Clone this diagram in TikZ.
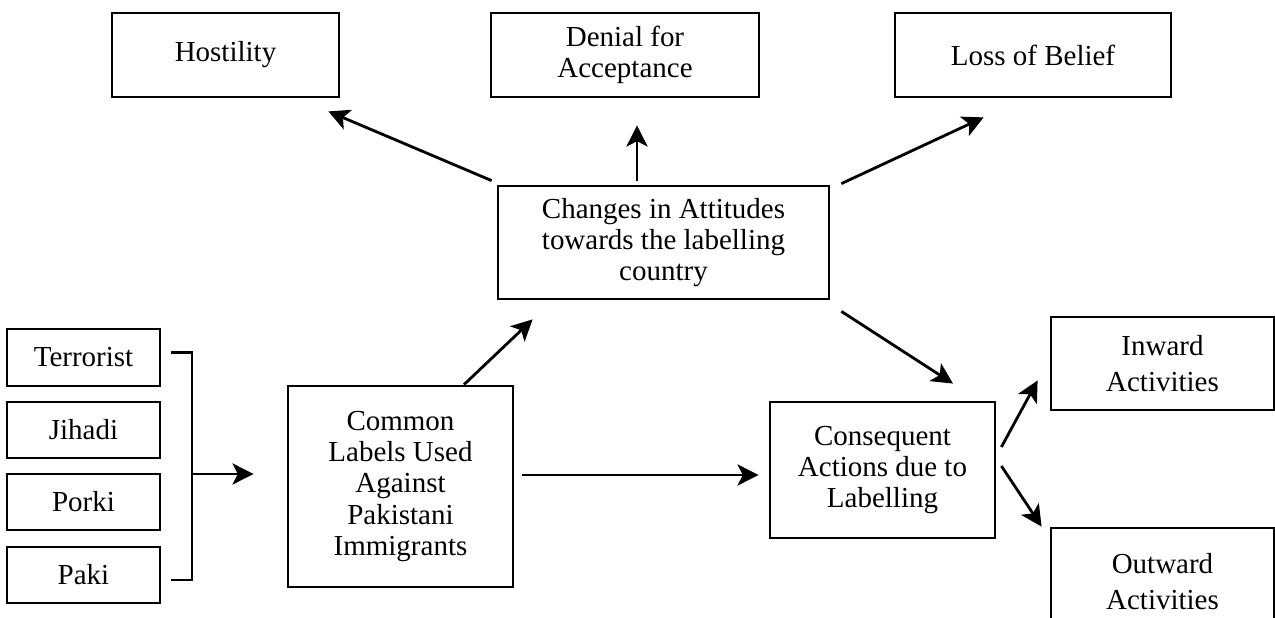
\documentclass[tikz,border=0pt]{standalone}
\usepackage{fontspec}
\setmainfont{Liberation Serif}
\usetikzlibrary{arrows.meta}

\begin{document}
\begin{tikzpicture}[
        x=0.02cm, y=-0.02cm,
        >={Stealth[length=12pt,width=12pt,inset=3pt]},
        line width=1.6pt,
        box/.style={draw, inner sep=0pt, align=center,
            font={\fontsize{16.5pt}{17.8pt}\selectfont}},
        widebox/.style={box, font={\fontsize{16.5pt}{20.4pt}\selectfont}},
        link/.style={->}
    ]

    \clip (0,0) rectangle (1275,618);

    %Top row of attitudes
    \node[box, minimum width=4.54cm, minimum height=1.68cm] (hostility) at (225.5,55) {Hostility};
    \node[box, minimum width=5.36cm, minimum height=1.68cm] (denial) at (625,55) {Denial for\\Acceptance};
    \node[box, minimum width=5.52cm, minimum height=1.68cm] (loss) at (1033,55) {Loss of Belief};

    %Middle box
    \node[box, minimum width=6.62cm, minimum height=2.26cm] (changes) at (663.5,242.5)
        {Changes in Attitudes\\towards the labelling\\country};

    %Labels on the left
    \node[box, minimum width=3.06cm, minimum height=1.14cm] (terrorist) at (83.5,357.5) {Terrorist};
    \node[box, minimum width=3.06cm, minimum height=1.12cm] (jihadi) at (83.5,430) {Jihadi};
    \node[box, minimum width=3.06cm, minimum height=1.12cm] (porki) at (83.5,502) {Porki};
    \node[box, minimum width=3.06cm, minimum height=1.12cm] (paki) at (83.5,575) {Paki};

    \node[box, minimum width=4.5cm, minimum height=4.02cm] (common) at (400.5,486.5)
        {Common\\Labels Used\\Against\\Pakistani\\Immigrants};
    \node[box, minimum width=4.5cm, minimum height=2.72cm] (consequent) at (882.5,470)
        {Consequent\\Actions due to\\Labelling};

    %Activities
    \node[widebox, minimum width=4.46cm, minimum height=1.86cm] (inward) at (1162.5,363.5) {Inward\\Activities};
    \node[widebox, minimum width=4.46cm, minimum height=2.16cm] (outward) at (1162.5,582) {Outward\\Activities};

    %Bracket joining the labels
    \coordinate (join) at (192,474);
    \draw ([shift={(10,-5)}]terrorist.east) -| (join) |- ([shift={(10,5)}]paki.east);
    \draw[link] (join) -- ([shift={(-33,-12.5)}]common.west);

    %Arrows
    \coordinate (denialfoot) at (denial.south |- changes.north);
    \draw[link] ([shift={(12,-4)}]denialfoot) -- ([shift={(12,27)}]denial.south);
    \draw[link] ([shift={(-5,-4)}]changes.north west) -- ([shift={(-12,13)}]hostility.south east);
    \draw[link] ([shift={(11,-1)}]changes.north east) -- ([shift={(90,19)}]loss.south west);
    \draw[link] ([shift={(11,11)}]changes.south east) -- ([shift={(70.5,-17)}]consequent.north);
    \draw[link] ([shift={(63.5,0)}]common.north) -- ([shift={(36,19)}]changes.south west);
    \draw[link] ([shift={(8,-11.5)}]common.east) -- ([shift={(-10,5)}]consequent.west);
    \draw[link] ([shift={(5,-23)}]consequent.east) -- ([shift={(-12,-31)}]inward.south west);
    \draw[link] ([shift={(5,-4)}]consequent.east) -- ([shift={(-8,0)}]outward.north west);
\end{tikzpicture}
\end{document}
